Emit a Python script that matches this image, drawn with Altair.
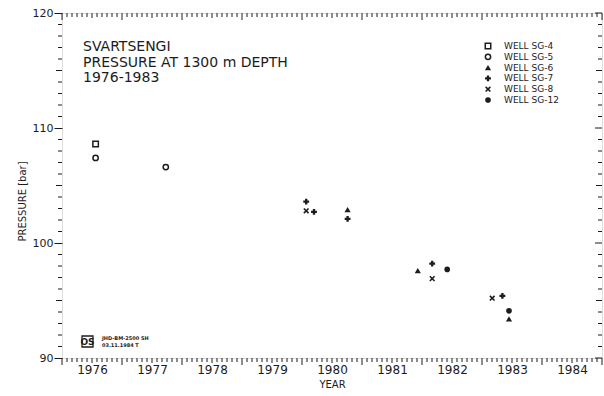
import altair as alt
import pandas as pd

# ---- measurements: pressure at 1300 m depth, Svartsengi wells ----
sg4_year = [1976.56]
sg4_p = [108.6]
sg5_year = [1976.56, 1977.73]
sg5_p = [107.4, 106.6]
sg6_year = [1980.76, 1981.93, 1983.45]
sg6_p = [102.9, 97.6, 93.4]
sg7_year = [1980.07, 1980.20, 1980.76, 1982.17, 1983.34]
sg7_p = [103.6, 102.7, 102.1, 98.2, 95.4]
sg8_year = [1980.07, 1982.17, 1983.17]
sg8_p = [102.8, 96.9, 95.2]
sg12_year = [1982.42, 1983.45]
sg12_p = [97.7, 94.1]

well_names = ["WELL SG-4", "WELL SG-5", "WELL SG-6", "WELL SG-7", "WELL SG-8", "WELL SG-12"]
title_lines = ["SVARTSENGI", "PRESSURE AT 1300 m DEPTH", "1976-1983"]
year_labels = list(range(1976, 1985))
pressure_labels = [90, 100, 110, 120]
stamp_lines = ["JHD-BM-2500 SH", "03.11.1984 T"]

INK = "#1c1c1c"
W, H = 540, 345
FONT = "DejaVu Sans"

xscale = alt.Scale(domain=[1976, 1985], nice=False, zero=False)
yscale = alt.Scale(domain=[90, 120], nice=False, zero=False)

series = [
    (sg4_year, sg4_p, dict(shape="square", filled=False, size=30, strokeWidth=1.5)),
    (sg5_year, sg5_p, dict(shape="circle", filled=False, size=28, strokeWidth=1.5)),
    (sg6_year, sg6_p, dict(shape="triangle-up", filled=True, size=38)),
    (sg7_year, sg7_p, dict(shape="cross", filled=True, size=34)),
    (sg8_year, sg8_p, dict(shape="M-1,-1L1,1M-1,1L1,-1", filled=False, size=22, strokeWidth=1.6)),
    (sg12_year, sg12_p, dict(shape="circle", filled=True, size=32)),
]

layers = []

# axis labels and titles carried by an invisible layer
axis_df = pd.DataFrame({"year": [1976.0], "p": [90.0]})
layers.append(
    alt.Chart(axis_df).mark_point(opacity=0).encode(
        x=alt.X("year:Q", scale=xscale,
                axis=alt.Axis(values=[y + 0.5 for y in year_labels],
                              labelExpr="'' + floor(datum.value)",
                              ticks=False, domain=False, grid=False,
                              labelPadding=6, labelFontSize=12, labelFont=FONT,
                              labelColor=INK, title="YEAR", titleFont=FONT,
                              titleFontSize=10, titleFontWeight="normal",
                              titleColor=INK, titlePadding=4)),
        y=alt.Y("p:Q", scale=yscale,
                axis=alt.Axis(values=pressure_labels, ticks=True, tickSize=8,
                              tickColor=INK, tickWidth=1, domain=False, grid=False,
                              labelPadding=1, labelFontSize=11, labelFont=FONT,
                              labelColor=INK, title="PRESSURE [bar]",
                              titleFont=FONT, titleFontSize=10,
                              titleFontWeight="normal", titleColor=INK,
                              titleX=-40, titleY=188, titleAngle=270,
                              titleAlign="center", titleBaseline="middle")),
    )
)


# tick marks along the frame
def horizontal_ticks(values, y0, y1):
    return alt.Chart(pd.DataFrame({"year": values})).mark_rule(color=INK, strokeWidth=1).encode(
        x=alt.X("year:Q", scale=xscale), y=alt.value(y0), y2=alt.value(y1))


def vertical_ticks(values, x0, x1):
    return alt.Chart(pd.DataFrame({"p": values})).mark_rule(color=INK, strokeWidth=1).encode(
        y=alt.Y("p:Q", scale=yscale), x=alt.value(x0), x2=alt.value(x1))


months = [1976 + m / 12 for m in range(0, 109)]
year_ticks = [m for i, m in enumerate(months) if i % 12 == 0]
half_ticks = [m for i, m in enumerate(months) if i % 12 == 6]
month_ticks = [m for i, m in enumerate(months) if i % 6 != 0]
bar_ticks = [90 + b for b in range(0, 31)]
major_bar = [b for b in bar_ticks if b % 10 == 0]
five_bar = [b for b in bar_ticks if b % 10 == 5]
minor_bar = [b for b in bar_ticks if b % 5 != 0]

# bottom: ticks hang below the axis line
layers += [horizontal_ticks(year_ticks, H, H + 7),
           horizontal_ticks(half_ticks, H, H + 5),
           horizontal_ticks(month_ticks, H, H + 4)]
# top: ticks hang down into the plot
layers += [horizontal_ticks(year_ticks, 0, 7),
           horizontal_ticks(half_ticks, 0, 5),
           horizontal_ticks(month_ticks, 0, 4)]
# left: ticks point outward
layers += [vertical_ticks(five_bar, -6, 0),
           vertical_ticks(minor_bar, -4, 0)]
# right: ticks point into the plot
layers += [vertical_ticks(major_bar, W - 7, W),
           vertical_ticks(five_bar, W - 6, W),
           vertical_ticks(minor_bar, W - 4, W)]

# observations
for yrs, ps, style in series:
    df = pd.DataFrame({"year": yrs, "p": ps})
    layers.append(
        alt.Chart(df).mark_point(color=INK, opacity=1, **style).encode(
            x=alt.X("year:Q", scale=xscale),
            y=alt.Y("p:Q", scale=yscale)))

# key in the upper right corner
for i, (name, (_, _, style)) in enumerate(zip(well_names, series)):
    row_y = 33 + i * 10.8
    layers.append(
        alt.Chart(pd.DataFrame({"n": [name]})).mark_point(color=INK, opacity=1, **style).encode(
            x=alt.value(426), y=alt.value(row_y)))
    layers.append(
        alt.Chart(pd.DataFrame({"n": [name]})).mark_text(
            align="left", baseline="middle", font=FONT, fontSize=9, color=INK).encode(
            x=alt.value(442), y=alt.value(row_y), text="n:N"))

# heading block
for i, line in enumerate(title_lines):
    layers.append(
        alt.Chart(pd.DataFrame({"t": [line]})).mark_text(
            align="left", baseline="middle", font=FONT, fontSize=14, color=INK).encode(
            x=alt.value(21), y=alt.value(34 + i * 15.5), text="t:N"))

# archive stamp, lower left
layers.append(
    alt.Chart(pd.DataFrame({"a": [0]})).mark_rect(fill="white", stroke=INK, strokeWidth=1.3).encode(
        x=alt.value(20), x2=alt.value(31), y=alt.value(323), y2=alt.value(334)))
layers.append(
    alt.Chart(pd.DataFrame({"t": ["OS"]})).mark_text(
        align="center", baseline="middle", font=FONT, fontSize=9, fontWeight="bold", color=INK).encode(
        x=alt.value(25.5), y=alt.value(328.8), text="t:N"))
for i, line in enumerate(stamp_lines):
    layers.append(
        alt.Chart(pd.DataFrame({"t": [line]})).mark_text(
            align="left", baseline="middle", font=FONT, fontSize=5, fontWeight="bold", color=INK).encode(
            x=alt.value(40), y=alt.value(325 + i * 7), text="t:N"))

chart = alt.layer(*layers).properties(
    width=W, height=H,
    autosize=alt.AutoSizeParams(type="none"),
    padding={"left": 62, "top": 13, "right": 2, "bottom": 38},
).configure_view(stroke=INK, strokeWidth=1.2).configure(background="white")

chart.save("out.html", embed_options={"renderer": "svg", "actions": False})
